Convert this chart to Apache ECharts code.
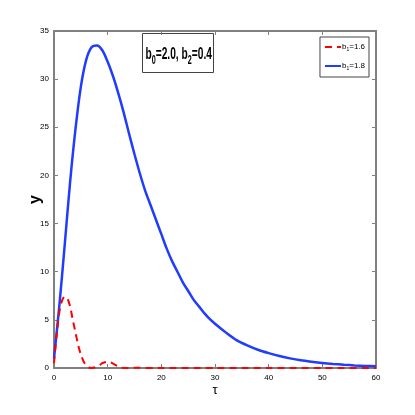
<!DOCTYPE html>
<html><head><meta charset="utf-8">
<script src="https://cdn.jsdelivr.net/npm/echarts@6/dist/echarts.min.js"></script>
<style>html,body{margin:0;padding:0;background:#fff}#c{width:415px;height:415px}</style>
</head><body><div id="c"></div>
<script>
const xTicks = [0, 10, 20, 30, 40, 50, 60];
const yTicks = [0, 5, 10, 15, 20, 25, 30, 35];
const tauBlue = [0,1,2,3,4,5,6,7,8,9,10,11,12,13,14,15,16,17,18,19,20,21,22,23,24,25,26,27,28,29,30,32,34,36,38,40,42,44,46,48,50,52,54,56,58,60];
const yBlue = [1.0,6.5,12.8,19.3,24.8,29.2,32.0,33.3,33.5,33.0,31.8,30.3,28.5,26.5,24.3,22.2,20.2,18.4,16.9,15.4,13.9,12.4,11.1,10.0,8.9,8.0,7.1,6.4,5.7,5.1,4.6,3.7,2.9,2.35,1.9,1.55,1.25,1.0,0.8,0.65,0.52,0.42,0.34,0.27,0.22,0.18];
const tauRed = [0,0.5,1,1.5,2,2.5,3,3.5,4,4.5,5,5.5,6,6.5,7,7.5,8,8.5,9,9.5,10,10.5,11,11.5,12,12.5,13,15,20,30,40,50,60];
const yRed = [0.5,3.5,5.8,7.0,7.4,7.2,6.4,5.0,3.7,2.4,1.4,0.7,0.25,0.05,0.0,0.05,0.15,0.3,0.5,0.6,0.65,0.6,0.45,0.3,0.15,0.05,0.0,0.02,0.0,0.0,0.0,0.0,0.0];
const seriesNames = ['b1=1.6', 'b1=1.8'];

const chart = echarts.init(document.getElementById('c'));
const font = "'Liberation Sans Narrow','Liberation Sans',Arial,sans-serif";
const axisCommon = {
  axisLine: {show: true, onZero: false, lineStyle: {color: '#808080', width: 2}},
  axisTick: {show: true, inside: true, length: 4, lineStyle: {color: '#808080', width: 1}},
  splitLine: {show: false}
};
chart.setOption({
  animation: false,
  backgroundColor: '#fff',
  grid: {left: 54, right: 39, top: 31, bottom: 47},
  graphic: [{
    type: 'group', left: 142, top: 33,
    children: [
      {type: 'rect', shape: {x: 0, y: 0, width: 71, height: 39},
       style: {fill: '#fff', stroke: '#444', lineWidth: 1}},
      {type: 'text', x: 3, y: 9, scaleX: 0.6,
       style: {
         text: '{t|b}{s|0}{t|=2.0, b}{s|2}{t|=0.4}',
         rich: {
           t: {fontFamily: font, fontSize: 17, fontWeight: 'bold', fill: '#000'},
           s: {fontFamily: font, fontSize: 12, fontWeight: 'bold', fill: '#000', padding: [12, 0, 0, 0]}
         }
       }}
    ]
  }],
  legend: {
    orient: 'vertical', right: 46, top: 37,
    borderColor: '#444', borderWidth: 1,
    padding: [6, 4, 6, 4], itemGap: 10,
    itemWidth: 16, itemHeight: 6,
    data: seriesNames.map(n => ({name: n, itemStyle: {opacity: 0}})),
    formatter: function (n) {
      const v = n.split('=')[1];
      return '{t|b}{s|1}{t|=' + v + '}';
    },
    textStyle: {
      padding: [0, 0, 0, -4],
      rich: {
        t: {fontFamily: font, fontSize: 8, color: '#000'},
        s: {fontFamily: font, fontSize: 5, color: '#000', padding: [5, 0, 0, 0]}
      }
    }
  },
  xAxis: [
    Object.assign({
      type: 'value', min: 0, max: 60, interval: 10, position: 'bottom',
      name: 'τ', nameLocation: 'middle', nameGap: 16, nameMoveOverlap: false,
      nameTextStyle: {fontFamily: font, fontSize: 13, color: '#000'},
      axisLabel: {fontFamily: font, fontSize: 8, color: '#000', margin: 6,
        formatter: v => xTicks.includes(v) ? String(v) : ''}
    }, axisCommon),
    Object.assign({
      type: 'value', min: 0, max: 60, interval: 10, position: 'top',
      axisLabel: {show: false}
    }, axisCommon)
  ],
  yAxis: [
    Object.assign({
      type: 'value', min: 0, max: 35, interval: 5, position: 'left',
      name: 'y', nameLocation: 'middle', nameGap: 10, nameRotate: 90, nameMoveOverlap: false,
      nameTextStyle: {fontFamily: 'Liberation Sans', fontSize: 16, fontWeight: 'bold', color: '#000'},
      axisLabel: {fontFamily: font, fontSize: 8, color: '#000', margin: 5,
        formatter: v => yTicks.includes(v) ? String(v) : ''}
    }, axisCommon),
    Object.assign({
      type: 'value', min: 0, max: 35, interval: 5, position: 'right',
      axisLabel: {show: false}
    }, axisCommon)
  ],
  series: [
    {
      name: seriesNames[0], type: 'line', symbol: 'none', smooth: 0.3,
      data: tauRed.map((t, i) => [t, yRed[i]]),
      lineStyle: {color: '#ff0000', width: 2, type: [7, 5]},
      itemStyle: {color: '#ff0000'}, z: 3
    },
    {
      name: seriesNames[1], type: 'line', symbol: 'none', smooth: 0.3,
      data: tauBlue.map((t, i) => [t, yBlue[i]]),
      lineStyle: {color: '#1f3cff', width: 2.5},
      itemStyle: {color: '#1f3cff'}, z: 2
    }
  ]
});
</script></body></html>
